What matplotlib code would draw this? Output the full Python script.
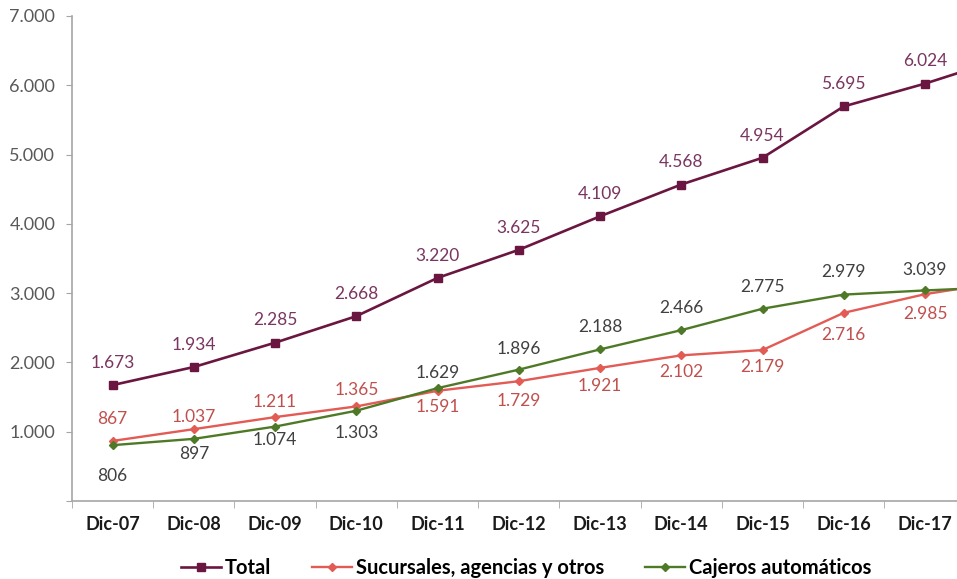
import matplotlib
matplotlib.use("Agg")
import matplotlib.pyplot as plt
from matplotlib.ticker import FuncFormatter, FixedLocator

plt.rcParams['font.family'] = ['Lato', 'DejaVu Sans']

# Periods (the last one continues past the right edge of the plot area)
categories = ["Dic-07", "Dic-08", "Dic-09", "Dic-10", "Dic-11", "Dic-12",
              "Dic-13", "Dic-14", "Dic-15", "Dic-16", "Dic-17", "Dic-18"]

total = [1673, 1934, 2285, 2668, 3220, 3625, 4109, 4568, 4954, 5695, 6024, 6400]
sucursales = [867, 1037, 1211, 1365, 1591, 1729, 1921, 2102, 2179, 2716, 2985, 3170]
cajeros = [806, 897, 1074, 1303, 1629, 1896, 2188, 2466, 2775, 2979, 3039, 3090]

# number of labelled periods
n_labelled = 11

# label placement: vertical offsets in points (+ above, - below)
off_total = [16] * n_labelled
off_suc = [16, 9, 11, 12, -12, -14, -13, -12, -12, -16, -14]
off_caj = [-22, -11, -10, -16, 11, 15, 16, 16, 16, 16, 15]

c_total, c_total_lbl = "#6A1641", "#7A3560"
c_suc, c_suc_lbl = "#E25B55", "#C0504D"
c_caj, c_caj_lbl = "#4E7A27", "#404040"


def miles(v, _=None):
    return f"{int(round(v)):,}".replace(",", ".")


W, H = 957, 579
fig = plt.figure(figsize=(W / 100, H / 100), dpi=100)
ax = fig.add_axes([72 / W, (H - 501) / H, (W - 72) / W, (501 - 16) / H])

x = list(range(len(categories)))
ax.plot(x, total, color=c_total, lw=1.9, marker="s", ms=6, label="Total")
ax.plot(x, sucursales, color=c_suc, lw=1.7, marker="D", ms=4,
        label="Sucursales, agencias y otros")
ax.plot(x, cajeros, color=c_caj, lw=1.7, marker="D", ms=4,
        label="Cajeros automáticos")

for series, offs, col in ((total, off_total, c_total_lbl),
                          (sucursales, off_suc, c_suc_lbl),
                          (cajeros, off_caj, c_caj_lbl)):
    for i in range(n_labelled):
        ax.annotate(miles(series[i]), (i, series[i]), xytext=(0, offs[i]),
                    textcoords="offset points", ha="center", va="center",
                    fontsize=12.5, color=col)

ax.yaxis.set_major_locator(FixedLocator(range(0, 7001, 1000)))
ax.yaxis.set_major_formatter(FuncFormatter(lambda v, p: "" if v == 0 else miles(v)))
ax.tick_params(axis="y", direction="out", length=4, color="#A6A6A6",
               labelsize=13, labelcolor="#595959", pad=8)

ax.set_xticks(range(n_labelled))
ax.set_xticklabels(categories[:n_labelled], fontweight="bold", fontsize=13)
ax.set_xticks([i - 0.5 for i in range(len(categories) + 1)], minor=True)
ax.tick_params(axis="x", which="major", length=0, pad=11, labelcolor="#1A1A1A")
ax.tick_params(axis="x", which="minor", direction="out", length=5, color="#A6A6A6")

# category spacing of 81.2 px, first category centred at x = 113 px
ax.set_xlim(-0.5, (W - 113) / 81.2)
ax.set_ylim(0, 7000)

for s in ("top", "right"):
    ax.spines[s].set_visible(False)
for s in ("left", "bottom"):
    ax.spines[s].set_color("#A6A6A6")
    ax.spines[s].set_linewidth(1.2)

fig.legend(loc="center", bbox_to_anchor=(526 / W, 1 - 568 / H), ncol=3,
           frameon=False, handlelength=2.0, handletextpad=0.2, columnspacing=2.0,
           prop={"weight": "bold", "size": 14.5})

fig.savefig("out.png", dpi=100)
